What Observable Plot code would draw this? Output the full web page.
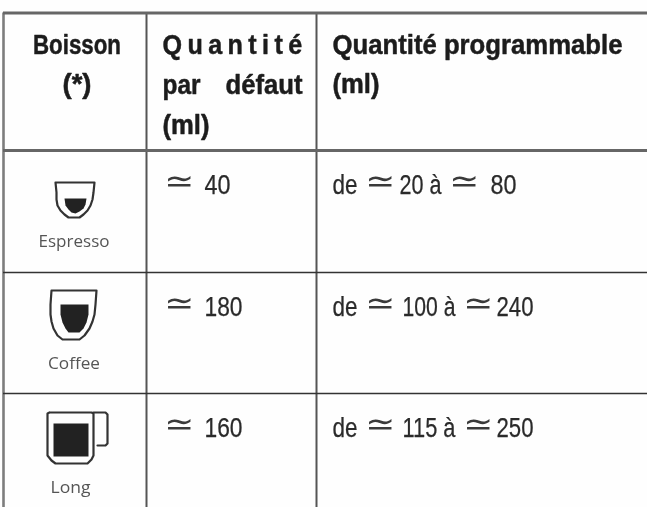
<!DOCTYPE html>
<html lang="fr">
<head>
<meta charset="utf-8">
<script src="https://cdn.jsdelivr.net/npm/d3@7"></script>
<script src="https://cdn.jsdelivr.net/npm/@observablehq/plot@0.6"></script>
<style>
html,body{margin:0;padding:0;background:#fefefe;}
svg{display:block;filter:blur(0.55px);}
.spaced text{letter-spacing:6px;}
</style>
</head>
<body>
<div id="chart"></div>
<script>
// Table content
const boissons = ["Espresso", "Coffee", "Long"];
const parDefaut = [40, 180, 160];
const minimum = [20, 100, 115];
const maximum = [80, 240, 250];
const approx = "≃";

// Table layout: column and row edges
const colEdges = [3, 146, 316, 647];
const rowEdges = [12.5, 150, 272, 393, 507];

// Rendered width of each condensed string
const fitWidths = {
  "Boisson": 88, "(*)": 29, "Quantité": 145, "par": 38, "défaut": 77, "(ml)": 47,
  "Quantité programmable": 290, "de": 25, "≃": 30,
  "40": 26, "180": 38, "160": 38,
  "20 à": 42, "100 à": 53, "115 à": 53, "80": 26, "240": 37, "250": 37,
  "Espresso": 71, "Coffee": 52, "Long": 40
};

// Cup drawings, offsets from the top-left of their cell
const espressoOutline = [[52,32],[91,32],[90,42],[89,49],[87,55],[84,60],[80,64],[76,67],[65,67],[61,64],[57,60],[54,55],[53,49],[53,42],[52,32]];
const espressoCoffee = [[61,48],[83,48],[82,54],[80,58],[76,61],[72,63],[68,62],[65,59],[62,55]];
const coffeeOutline = [[48,18],[93,18],[92,32],[91,42],[89,49],[86,56],[81,63],[76,67],[59,67],[54,63],[50,56],[48,49],[47,42],[47,32],[48,18]];
const coffeeLiquid = [[57,32],[85,32],[85,42],[83,50],[80,56],[76,60],[65,60],[62,56],[59,50],[57,42]];
const longOutline = [[46,19],[88,19],[90,20],[90,62],[88,66],[84,70],[52,70],[48,67],[44,62],[44,20],[46,19]];
const longHandle = [[90,19],[102,19],[104,21],[104,50],[102,52],[94,52]];
const longLiquid = [[50,30],[85,30],[85,63],[50,63]];

const colW = colEdges[1] - colEdges[0];
const cupLine = (pts, r) => pts.map(([u, v]) => ({x: u / colW, y: r + v / (rowEdges[r + 1] - rowEdges[r])}));

const cups = [
  {pts: cupLine(espressoOutline, 1), fill: "none"},
  {pts: cupLine(espressoCoffee, 1), fill: "#222"},
  {pts: cupLine(coffeeOutline, 2), fill: "none"},
  {pts: cupLine(coffeeLiquid, 2), fill: "#222"},
  {pts: cupLine(longOutline, 3), fill: "none"},
  {pts: cupLine(longHandle, 3), fill: "none"},
  {pts: cupLine(longLiquid, 3), fill: "#222"}
];

const bodyFont = "'Liberation Sans',sans-serif";
const headCommon = {fontFamily: bodyFont, fontWeight: 700, fontSize: 28, fill: "#1c1c1c", stroke: "#1c1c1c", strokeWidth: 0.5, lineAnchor: "bottom"};
const cellCommon = {fontFamily: bodyFont, fontSize: 27, fill: "#2a2a2a", stroke: "#2a2a2a", strokeWidth: 0.25, lineAnchor: "bottom", textAnchor: "start"};
const symCommon = {fontFamily: "'DejaVu Sans',sans-serif", fontSize: 32, fill: "#3a3a3a", lineAnchor: "bottom", textAnchor: "start"};
const rowIdx = d3.range(boissons.length);
const rowY = (d, i) => i + 1;

const plot = Plot.plot({
  width: 647, height: 507,
  margin: 0,
  style: {background: "#fefefe"},
  x: {type: "linear", domain: [0, 1, 2, 3], range: colEdges, axis: null},
  y: {type: "linear", domain: [0, 1, 2, 3, 4], range: rowEdges, axis: null},
  marks: [
    // grid
    Plot.ruleX([0], {y1: 0, y2: 4, stroke: "#7d7d7d", strokeWidth: 2.6}),
    Plot.ruleX([1, 2], {y1: 0, y2: 4, stroke: "#555", strokeWidth: 2}),
    Plot.ruleY([0, 1], {x1: 0, x2: 3, stroke: "#666", strokeWidth: 3}),
    Plot.ruleY([2, 3], {x1: 0, x2: 3, stroke: "#333", strokeWidth: 1.6}),

    // cups
    ...cups.map(c => Plot.line(c.pts, {
      x: "x", y: "y",
      stroke: c.fill === "none" ? "#333" : "none",
      strokeWidth: 2.2,
      fill: c.fill,
      strokeLinejoin: "round"
    })),

    // header
    Plot.text(["Boisson"], {...headCommon, x: 0.5, y: 0, dy: 41, dx: 2}),
    Plot.text(["(*)"], {...headCommon, x: 0.5, y: 0, dy: 80, dx: 2}),
    Plot.text(["Quantité"], {...headCommon, x: 1, y: 0, dy: 41, dx: 16, textAnchor: "start", className: "spaced"}),
    Plot.text(["par"], {...headCommon, x: 1, y: 0, dy: 81, dx: 16, textAnchor: "start"}),
    Plot.text(["défaut"], {...headCommon, x: 2, y: 0, dy: 81, dx: -14, textAnchor: "end"}),
    Plot.text(["(ml)"], {...headCommon, x: 1, y: 0, dy: 121, dx: 16, textAnchor: "start"}),
    Plot.text(["Quantité programmable"], {...headCommon, x: 2, y: 0, dy: 41, dx: 16, textAnchor: "start"}),
    Plot.text(["(ml)"], {...headCommon, x: 2, y: 0, dy: 80, dx: 16, textAnchor: "start"}),

    // labels under cups
    Plot.text(boissons, {
      x: () => 0.5, y: rowY, dy: 96, dx: -1, filter: (d, i) => i < 2,
      fontFamily: "'Open Sans',sans-serif", fontSize: 15.5, fill: "#555", lineAnchor: "bottom"
    }),
    Plot.text(boissons, {
      x: () => 0.5, y: rowY, dy: 99, dx: -4.5, filter: (d, i) => i === 2,
      fontFamily: "'Open Sans',sans-serif", fontSize: 15.5, fill: "#555", lineAnchor: "bottom"
    }),

    // default quantity
    Plot.text(rowIdx, {...symCommon, x: () => 1, y: rowY, dy: 41, dx: 18, text: () => approx}),
    Plot.text(parDefaut, {...cellCommon, x: () => 1, y: rowY, dy: 43, dx: 58, text: d => String(d)}),

    // programmable quantity
    Plot.text(rowIdx, {...cellCommon, x: () => 2, y: rowY, dy: 43, dx: 16, text: () => "de"}),
    Plot.text(rowIdx, {...symCommon, x: () => 2, y: rowY, dy: 41, dx: 49, text: () => approx}),
    Plot.text(minimum, {...cellCommon, x: () => 2, y: rowY, dy: 43, dx: 83, text: d => d + " à", filter: (d, i) => i === 0}),
    Plot.text(minimum, {...cellCommon, x: () => 2, y: rowY, dy: 43, dx: 86, text: d => d + " à", filter: (d, i) => i > 0}),
    Plot.text(rowIdx, {...symCommon, x: () => 2, y: rowY, dy: 41, dx: 133, text: () => approx, filter: i => i === 0}),
    Plot.text(rowIdx, {...symCommon, x: () => 2, y: rowY, dy: 41, dx: 147, text: () => approx, filter: i => i > 0}),
    Plot.text(maximum, {...cellCommon, x: () => 2, y: rowY, dy: 43, dx: 174, text: d => String(d), filter: (d, i) => i === 0}),
    Plot.text(maximum, {...cellCommon, x: () => 2, y: rowY, dy: 43, dx: 180, text: d => String(d), filter: (d, i) => i > 0})
  ]
});
document.getElementById("chart").appendChild(plot);

// Condense each string to its width in the picture
d3.select(plot).selectAll("text").each(function () {
  const w = fitWidths[this.textContent.trim()];
  if (w) {
    this.setAttribute("textLength", w);
    this.setAttribute("lengthAdjust", "spacingAndGlyphs");
  }
});
</script>
</body>
</html>
